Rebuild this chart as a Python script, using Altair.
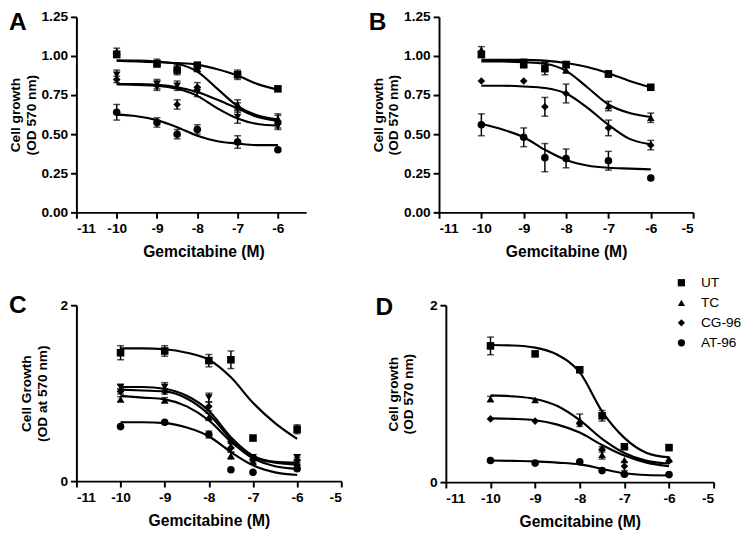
import altair as alt
import pandas as pd

SERIES = ["UT", "TC", "CG-96", "AT-96", "X"]
SHAPES = ["square", "triangle-up", "diamond", "circle", "triangle-down"]
LEGEND_SERIES = ["UT", "TC", "CG-96", "AT-96"]

doses_ab = [-10, -9, -8.5, -8, -7, -6]
doses_cd = [-10, -9, -8, -7.5, -7, -6]
curve_x = [-10, -9.5, -9, -8.5, -8, -7.5, -7, -6.5, -6]

# ---------------- Panel A ----------------
a_pts = {
    "UT": [1.01, 0.95, 0.91, 0.94, 0.88, 0.79],
    "TC": [1.03, 0.96, 0.93, 0.92, 0.69, 0.60],
    "CG-96": [0.85, 0.81, 0.69, 0.80, 0.67, 0.58],
    "X": [0.88, 0.82, 0.81, 0.77, 0.61, 0.55],
    "AT-96": [0.64, 0.575, 0.50, 0.53, 0.45, 0.40],
}
a_err = {
    "UT": [0.02, 0.02, 0.03, 0.02, 0.03, 0],
    "TC": [0.02, 0.02, 0.02, 0.02, 0.03, 0.03],
    "CG-96": [0.02, 0.03, 0.03, 0.03, 0.03, 0.04],
    "X": [0.03, 0.03, 0.03, 0.03, 0.04, 0.02],
    "AT-96": [0.05, 0.03, 0.03, 0.03, 0.04, 0],
}
a_curves = {
    "UT": [0.97, 0.965, 0.96, 0.955, 0.945, 0.915, 0.875, 0.82, 0.785],
    "TC": [0.97, 0.97, 0.965, 0.95, 0.90, 0.79, 0.68, 0.62, 0.595],
    "CG-96": [0.82, 0.82, 0.815, 0.80, 0.77, 0.72, 0.665, 0.61, 0.585],
    "X": [0.82, 0.815, 0.81, 0.79, 0.745, 0.665, 0.60, 0.565, 0.555],
    "AT-96": [0.625, 0.615, 0.59, 0.545, 0.49, 0.455, 0.44, 0.43, 0.43],
}

# ---------------- Panel B ----------------
b_pts = {
    "UT": [1.01, 0.945, 0.92, 0.945, 0.885, 0.80],
    "TC": [1.04, 0.96, 0.93, 0.91, 0.68, 0.605],
    "CG-96": [0.84, 0.84, 0.675, 0.76, 0.54, 0.43],
    "AT-96": [0.56, 0.48, 0.35, 0.345, 0.33, 0.22],
}
b_err = {
    "UT": [0.02, 0.02, 0.04, 0.02, 0.02, 0],
    "TC": [0.02, 0.02, 0.03, 0.02, 0.03, 0.03],
    "CG-96": [0, 0, 0.06, 0.06, 0.05, 0.03],
    "AT-96": [0.07, 0.06, 0.09, 0.06, 0.06, 0],
}
b_curves = {
    "UT": [0.975, 0.975, 0.975, 0.97, 0.955, 0.93, 0.89, 0.84, 0.80],
    "TC": [0.965, 0.965, 0.96, 0.95, 0.905, 0.80, 0.69, 0.635, 0.61],
    "CG-96": [0.81, 0.81, 0.805, 0.795, 0.76, 0.67, 0.56, 0.47, 0.435],
    "AT-96": [0.565, 0.53, 0.48, 0.40, 0.335, 0.30, 0.285, 0.28, 0.275],
}

# ---------------- Panel C ----------------
c_pts = {
    "UT": [1.46, 1.48, 1.37, 1.38, 0.49, 0.59],
    "TC": [0.93, 0.92, 0.73, 0.29, 0.22, 0.21],
    "CG-96": [1.02, 1.02, 0.85, 0.38, 0.25, 0.24],
    "X": [1.07, 1.07, 0.95, 0.42, 0.27, 0.27],
    "AT-96": [0.62, 0.67, 0.53, 0.13, 0.10, 0.14],
}
c_err = {
    "UT": [0.08, 0.06, 0.07, 0.10, 0, 0.05],
    "TC": [0.03, 0.03, 0.04, 0.04, 0.02, 0.02],
    "CG-96": [0.03, 0.03, 0.05, 0.05, 0.03, 0.03],
    "X": [0.03, 0.05, 0.05, 0.05, 0.03, 0.03],
    "AT-96": [0, 0, 0.04, 0, 0, 0],
}
c_curves = {
    "UT": [1.51, 1.51, 1.50, 1.46, 1.38, 1.18, 0.89, 0.66, 0.48],
    "X": [1.07, 1.07, 1.05, 0.97, 0.80, 0.50, 0.29, 0.22, 0.21],
    "CG-96": [1.04, 1.03, 1.02, 0.94, 0.76, 0.48, 0.28, 0.21, 0.19],
    "TC": [0.97, 0.95, 0.93, 0.85, 0.69, 0.45, 0.26, 0.17, 0.14],
    "AT-96": [0.67, 0.67, 0.66, 0.61, 0.51, 0.33, 0.18, 0.10, 0.07],
}

# ---------------- Panel D ----------------
d_pts = {
    "UT": [1.54, 1.45, 1.27, 0.75, 0.40, 0.39],
    "TC": [0.94, 0.93, 0.70, 0.31, 0.25, 0.26],
    "CG-96": [0.715, 0.69, 0.66, 0.37, 0.18, 0.24],
    "AT-96": [0.245, 0.215, 0.23, 0.13, 0.09, 0.085],
}
d_err = {
    "UT": [0.10, 0, 0, 0.06, 0, 0],
    "TC": [0.03, 0, 0.07, 0.05, 0, 0],
    "CG-96": [0, 0, 0, 0.03, 0.05, 0],
    "AT-96": [0, 0, 0, 0, 0, 0],
}
d_curves = {
    "UT": [1.55, 1.545, 1.52, 1.44, 1.24, 0.80, 0.50, 0.33, 0.28],
    "TC": [0.98, 0.97, 0.94, 0.86, 0.70, 0.49, 0.33, 0.24, 0.21],
    "CG-96": [0.72, 0.715, 0.70, 0.65, 0.56, 0.42, 0.30, 0.22, 0.18],
    "AT-96": [0.245, 0.24, 0.235, 0.22, 0.20, 0.15, 0.10, 0.08, 0.075],
}

FONT = "Liberation Sans"


def make_panel(letter, doses, pts, errs, curves, xdom, xticks, ydom, yticks,
               yfmt, ytitle, w, h, legend=None, lx=-69, ly=12, ytp=3, xtitle_x=None):
    rows = []
    for s, vals in pts.items():
        for d, v, e in zip(doses, vals, errs[s]):
            rows.append(dict(x=d, y=v, lo=v - e, hi=v + e, err=e, series=s))
    pdf = pd.DataFrame(rows)
    edf = pdf[pdf["err"] > 0]
    crows = []
    for s, vals in curves.items():
        for d, v in zip(curve_x, vals):
            crows.append(dict(x=d, y=v, series=s))
    cdf = pd.DataFrame(crows)

    xaxis_kw = dict(values=xticks, labelExpr="'' + datum.value")
    if xtitle_x is not None:
        xaxis_kw["titleX"] = xtitle_x
    xenc = alt.X("x:Q", scale=alt.Scale(domain=xdom, nice=False, zero=False),
                 axis=alt.Axis(**xaxis_kw), title="Gemcitabine (M)")

    def yenc(field):
        return alt.Y(f"{field}:Q", scale=alt.Scale(domain=ydom, nice=False, zero=True),
                     axis=alt.Axis(values=yticks, format=yfmt, titlePadding=ytp), title=ytitle)

    lines = alt.Chart(cdf).mark_line(color="black", strokeWidth=2.2, interpolate="monotone").encode(
        x=xenc, y=yenc("y"), detail="series:N")
    bars = alt.Chart(edf).mark_rule(color="black", strokeWidth=1.5).encode(
        x=xenc, y=yenc("lo"), y2="hi:Q")
    cap_lo = alt.Chart(edf).mark_tick(color="black", thickness=1.5, size=7, orient="horizontal").encode(
        x=xenc, y=yenc("lo"))
    cap_hi = alt.Chart(edf).mark_tick(color="black", thickness=1.5, size=7, orient="horizontal").encode(
        x=xenc, y=yenc("hi"))
    if legend is None:
        shape = alt.Shape("series:N", scale=alt.Scale(domain=SERIES, range=SHAPES), legend=None)
    else:
        shape = alt.Shape("series:N", scale=alt.Scale(domain=SERIES, range=SHAPES), legend=legend)
    points = alt.Chart(pdf).mark_point(filled=True, color="black", opacity=1, size=60).encode(
        x=xenc, y=yenc("y"), shape=shape)
    tag = alt.Chart(pd.DataFrame({"letter": [letter]})).mark_text(
        align="left", baseline="alphabetic", font=FONT, fontSize=25, fontWeight="bold",
        color="black").encode(text="letter:N", x=alt.value(lx), y=alt.value(ly))
    return alt.layer(lines, bars, cap_lo, cap_hi, points, tag).properties(width=w, height=h)


legend_d = alt.Legend(orient="none", legendX=234, legendY=-30, title=None,
                      values=LEGEND_SERIES, labelFont=FONT, labelFontSize=14,
                      labelColor="black", symbolSize=55, symbolFillColor="black",
                      symbolStrokeColor="black", rowPadding=6.5, labelOffset=13)

ytitle_ab = ["Cell growth", "(OD 570 nm)"]
panel_a = make_panel("A", doses_ab, a_pts, a_err, a_curves, [-11, -5.3], [-11, -10, -9, -8, -7, -6],
                     [0, 1.25], [0, 0.25, 0.5, 0.75, 1.0, 1.25], ".2f", ytitle_ab, 235, 200,
                     lx=-69, ly=13, ytp=3, xtitle_x=130)
panel_b = make_panel("B", doses_ab, b_pts, b_err, b_curves, [-11, -5], [-11, -10, -9, -8, -7, -6, -5],
                     [0, 1.25], [0, 0.25, 0.5, 0.75, 1.0, 1.25], ".2f", ytitle_ab, 260, 200,
                     lx=-72, ly=13, ytp=3)
panel_c = make_panel("C", doses_cd, c_pts, c_err, c_curves, [-11, -5], [-11, -10, -9, -8, -7, -6, -5],
                     [0, 2], [0, 1, 2], "d", ["Cell Growth", "(OD at 570 nm)"], 271, 180,
                     lx=-69, ly=8, ytp=11)
panel_d = make_panel("D", doses_cd, d_pts, d_err, d_curves, [-11, -5], [-11, -10, -9, -8, -7, -6, -5],
                     [0, 2], [0, 1, 2], "d", ["Cell  growth", "(OD 570 nm)"], 274, 181,
                     legend=legend_d, lx=-72, ly=10, ytp=14)

res = dict(x="independent", y="independent", shape="independent")
row1 = alt.hconcat(panel_a, panel_b, spacing=64).resolve_scale(**res)
row2 = alt.hconcat(panel_c, panel_d, spacing=34).resolve_scale(**res)
chart = alt.vconcat(row1, row2, spacing=17).resolve_scale(**res).properties(
    padding={"left": 0, "top": -4, "right": 0, "bottom": 0}
).configure_view(stroke=None).configure_axis(
    grid=False, domainColor="black", domainWidth=2, tickColor="black", tickWidth=2,
    tickSize=6, labelFont=FONT, labelFontSize=14, labelFontWeight="bold", labelColor="black",
    titleFont=FONT, titleFontSize=14, titleFontWeight="bold", titleColor="black",
    labelPadding=3, titleLineHeight=16
).configure_axisX(titleFontSize=16, labelPadding=4, titlePadding=8)

chart.save("out.html", embed_options={"renderer": "svg", "actions": False})
